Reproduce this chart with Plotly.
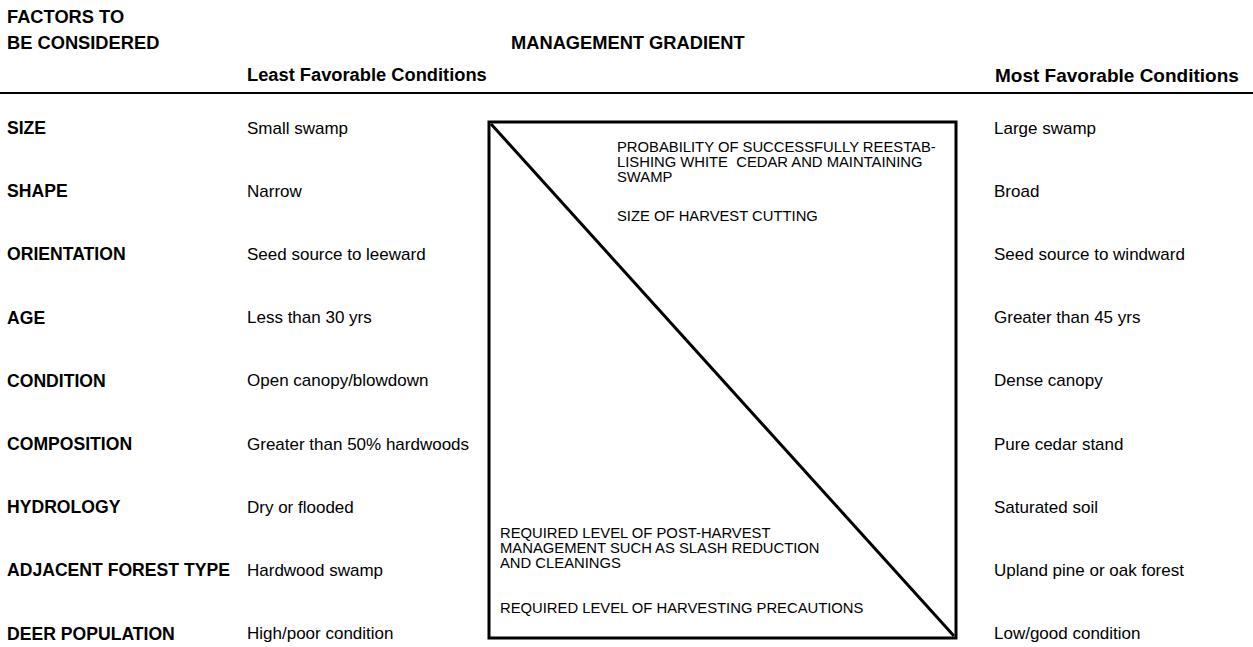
import plotly.graph_objects as go

factors = ["SIZE", "SHAPE", "ORIENTATION", "AGE", "CONDITION", "COMPOSITION",
           "HYDROLOGY", "ADJACENT FOREST TYPE", "DEER POPULATION"]
least_favorable = ["Small swamp", "Narrow", "Seed source to leeward", "Less than 30 yrs",
                   "Open canopy/blowdown", "Greater than 50% hardwoods", "Dry or flooded",
                   "Hardwood swamp", "High/poor condition"]
most_favorable = ["Large swamp", "Broad", "Seed source to windward", "Greater than 45 yrs",
                  "Dense canopy", "Pure cedar stand", "Saturated soil",
                  "Upland pine or oak forest", "Low/good condition"]
upper_labels = [["PROBABILITY OF SUCCESSFULLY REESTAB-", "LISHING WHITE  CEDAR AND MAINTAINING", "SWAMP"],
                ["SIZE OF HARVEST CUTTING"]]
lower_labels = [["REQUIRED LEVEL OF POST-HARVEST", "MANAGEMENT SUCH AS SLASH REDUCTION", "AND CLEANINGS"],
                ["REQUIRED LEVEL OF HARVESTING PRECAUTIONS"]]

W, H = 1253, 647
FONT = "Liberation Sans, Arial, Helvetica, sans-serif"
row_y0, row_dy = 128, 63.2
col_factor, col_least, col_most = 5, 245, 992
box = dict(x0=489, y0=122, x1=956, y1=638)

fig = go.Figure()
fig.add_trace(go.Scatter(x=[box["x0"] + 2, box["x1"] - 2], y=[box["y0"] + 2, box["y1"] - 2],
                         mode="lines", line=dict(color="black", width=3), hoverinfo="skip",
                         showlegend=False))

ann = []
def txt(x, y, s, size=17, bold=False, xanchor="left"):
    ann.append(dict(x=x, y=y, xref="x", yref="y", text=(f"<b>{s}</b>" if bold else s),
                    showarrow=False, xanchor=xanchor, yanchor="middle", align="left",
                    font=dict(family=FONT, size=size, color="black")))

for i, (f, l, m) in enumerate(zip(factors, least_favorable, most_favorable)):
    y = row_y0 + i * row_dy
    txt(col_factor, y, f, 17.6, True)
    txt(col_least, y, l, 17)
    txt(col_most, y, m, 17)

txt(col_factor, 16, "FACTORS TO", 18.3, True)
txt(col_factor, 42, "BE CONSIDERED", 18.3, True)
txt(628, 42, "MANAGEMENT GRADIENT", 18.3, True, "center")
txt(col_least, 74, "Least Favorable Conditions", 18.3, True)
txt(col_most + 1, 75, "Most Favorable Conditions", 19, True)

LS = 15
for j, line in enumerate(upper_labels[0]):
    txt(615, 147 + j * LS, line, 14.8)
txt(615, 216, upper_labels[1][0], 14.8)
for j, line in enumerate(lower_labels[0]):
    txt(498, 533 + j * LS, line, 14.8)
txt(498, 608, lower_labels[1][0], 14.8)

fig.update_layout(
    width=W, height=H, margin=dict(l=0, r=0, t=0, b=0),
    paper_bgcolor="white", plot_bgcolor="white", annotations=ann,
    xaxis=dict(range=[0, W], visible=False, fixedrange=True),
    yaxis=dict(range=[H, 0], visible=False, fixedrange=True),
    shapes=[
        dict(type="line", xref="x", yref="y", x0=0, x1=W, y0=93, y1=93,
             line=dict(color="black", width=2)),
        dict(type="rect", xref="x", yref="y", **box, line=dict(color="black", width=3)),
    ],
)
fig.write_html("out.html", config={"displayModeBar": False},
               post_script="document.body.style.margin='0';document.body.style.overflow='hidden';")
